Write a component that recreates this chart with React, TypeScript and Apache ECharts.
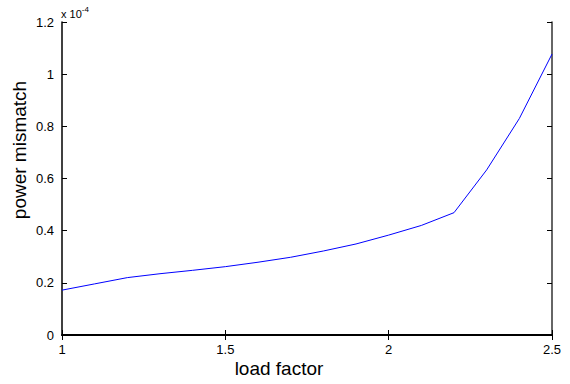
import React, { useEffect, useRef } from "react";
import * as echarts from "echarts";

const loadFactor = [1, 1.1, 1.2, 1.3, 1.4, 1.5, 1.6, 1.7, 1.8, 1.9, 2.0, 2.1, 2.2, 2.3, 2.4, 2.5];
// power mismatch in units of 1e-4
const mismatch = [0.172, 0.196, 0.22, 0.235, 0.248, 0.262, 0.279, 0.298, 0.322, 0.349, 0.383, 0.42, 0.469, 0.633, 0.83, 1.077];
const xLabel = "load factor";
const yLabel = "power mismatch";

export default function App() {
  const ref = useRef<HTMLDivElement>(null);
  useEffect(() => {
    if (!ref.current) return;
    const chart = echarts.init(ref.current, undefined, { renderer: "svg" });
    const font = "Liberation Sans, Arial, Helvetica, sans-serif";
    const tick = { show: true, inside: true, length: 5, lineStyle: { color: "#000" } };
    chart.setOption({
      animation: false,
      backgroundColor: "#fff",
      grid: { left: 62, right: 18, top: 22, bottom: 49, show: false },
      xAxis: [
        {
          type: "value", min: 1, max: 2.5, interval: 0.5, position: "bottom",
          axisLine: { show: true, lineStyle: { color: "#000", width: 2 } },
          axisTick: tick, splitLine: { show: false },
          axisLabel: { color: "#000", fontSize: 13, fontFamily: font, margin: 8 },
        },
        {
          type: "value", min: 1, max: 2.5, interval: 0.5, position: "top",
          axisLine: { show: true, lineStyle: { color: "#000", width: 1 } },
          axisTick: tick, splitLine: { show: false }, axisLabel: { show: false },
        },
      ],
      yAxis: [
        {
          type: "value", min: 0, max: 1.2, interval: 0.2, position: "left",
          axisLine: { show: true, lineStyle: { color: "#000", width: 1.5 } },
          axisTick: tick, splitLine: { show: false },
          axisLabel: { color: "#000", fontSize: 13, fontFamily: font, margin: 8, padding: [5, 0, 0, 0] },
        },
        {
          type: "value", min: 0, max: 1.2, interval: 0.2, position: "right",
          axisLine: { show: true, lineStyle: { color: "#333", width: 1.5 } },
          axisTick: tick, splitLine: { show: false }, axisLabel: { show: false },
        },
      ],
      graphic: [
        {
          type: "text", left: 61, top: 5,
          style: {
            text: "{a|x 10}{b|-4}",
            rich: {
              a: { fontSize: 11, fontFamily: font, fill: "#000", verticalAlign: "bottom", lineHeight: 14 },
              b: { fontSize: 8, fontFamily: font, fill: "#000", verticalAlign: "top", padding: [0, 0, 10, 0], lineHeight: 14 },
            },
          },
        },
        {
          type: "text", x: 279, y: 368,
          style: {
            text: xLabel, fontSize: 19, fontFamily: font, fill: "#000",
            align: "center", verticalAlign: "middle",
          },
        },
        {
          type: "text", x: 19, y: 150, rotation: Math.PI / 2,
          style: {
            text: yLabel, fontSize: 19, fontFamily: font, fill: "#000",
            align: "center", verticalAlign: "middle",
          },
        },
      ],
      series: [
        {
          type: "line", xAxisIndex: 0, yAxisIndex: 0,
          data: loadFactor.map((x, i) => [x, mismatch[i]]),
          showSymbol: false, symbol: "none",
          lineStyle: { color: "#0000ff", width: 1 },
        },
      ],
    });
    return () => chart.dispose();
  }, []);
  return (
    <div
      ref={ref}
      style={{ position: "fixed", left: 0, top: 0, width: 570, height: 384, background: "#fff" }}
    />
  );
}
